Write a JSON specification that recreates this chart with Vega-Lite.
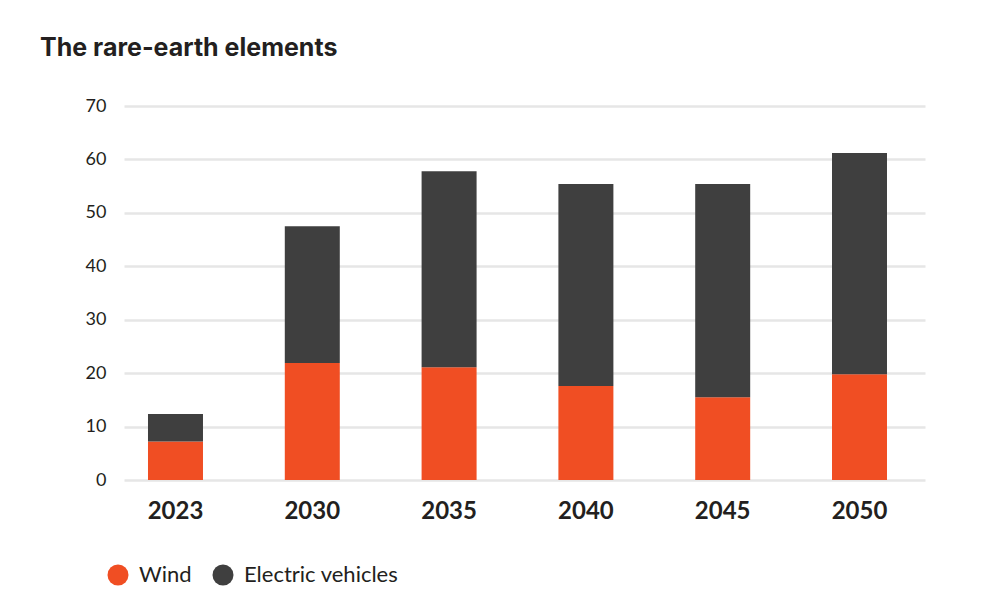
{
  "$schema": "https://vega.github.io/schema/vega-lite/v6.json",
  "width": 801,
  "height": 374,
  "autosize": {"type": "none"},
  "padding": {"left": 124, "top": 106, "right": 83, "bottom": 125},
  "background": "white",
  "title": {
    "text": "The rare-earth elements",
    "anchor": "start",
    "frame": "group",
    "font": "Inter",
    "fontSize": 25,
    "fontWeight": "bold",
    "color": "#231f20",
    "dx": -84,
    "offset": 36
  },
  "data": {
    "values": [
      {"year": "2023", "series": "Wind", "value": 7.2},
      {"year": "2023", "series": "Electric vehicles", "value": 5.15},
      {"year": "2030", "series": "Wind", "value": 21.9},
      {"year": "2030", "series": "Electric vehicles", "value": 25.6},
      {"year": "2035", "series": "Wind", "value": 21.1},
      {"year": "2035", "series": "Electric vehicles", "value": 36.7},
      {"year": "2040", "series": "Wind", "value": 17.6},
      {"year": "2040", "series": "Electric vehicles", "value": 37.8},
      {"year": "2045", "series": "Wind", "value": 15.5},
      {"year": "2045", "series": "Electric vehicles", "value": 39.9},
      {"year": "2050", "series": "Wind", "value": 19.8},
      {"year": "2050", "series": "Electric vehicles", "value": 41.4}
    ]
  },
  "mark": {"type": "bar"},
  "encoding": {
    "x": {
      "field": "year",
      "type": "ordinal",
      "title": null,
      "scale": {"paddingInner": 0.598, "paddingOuter": 0.2266, "align": 0.387},
      "axis": {
        "labelAngle": 0,
        "labelFont": "Lato",
        "labelFontSize": 24,
        "labelFontWeight": "bold",
        "labelColor": "#231f20",
        "labelPadding": 19,
        "domain": false,
        "ticks": false
      }
    },
    "y": {
      "field": "value",
      "type": "quantitative",
      "stack": "zero",
      "title": null,
      "scale": {"domain": [0, 70]},
      "axis": {
        "values": [0, 10, 20, 30, 40, 50, 60, 70],
        "labelFont": "Lato",
        "labelFontSize": 18,
        "labelColor": "#231f20",
        "labelPadding": 18,
        "domain": false,
        "ticks": false,
        "grid": true,
        "gridColor": "#e6e6e6",
        "gridWidth": 2.5
      }
    },
    "color": {
      "field": "series",
      "type": "nominal",
      "scale": {"domain": ["Wind", "Electric vehicles"], "range": ["#f04e23", "#3f3f3f"]},
      "legend": {
        "title": null,
        "orient": "none",
        "direction": "horizontal",
        "legendX": -17,
        "legendY": 458,
        "padding": 0,
        "symbolType": "circle",
        "symbolSize": 440,
        "symbolStrokeWidth": 0,
        "symbolOpacity": 1,
        "labelFont": "Lato",
        "labelFontSize": 22,
        "labelColor": "#231f20",
        "labelOffset": 10,
        "columnPadding": 20
      }
    },
    "order": {"field": "series", "sort": "descending"}
  },
  "config": {
    "view": {"stroke": null}
  }
}
